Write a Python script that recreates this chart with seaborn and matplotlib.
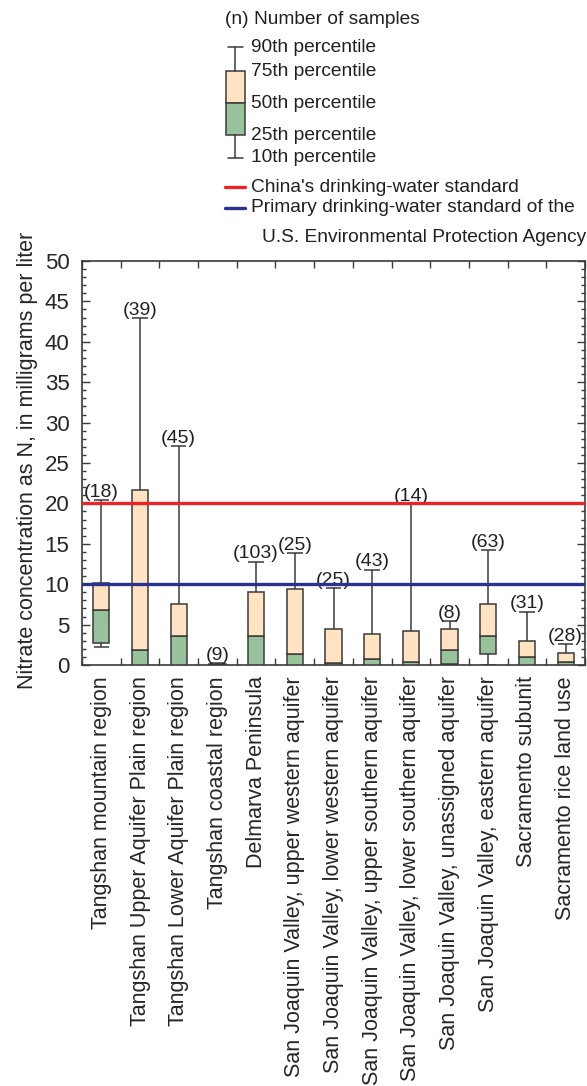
import numpy as np
import pandas as pd
import matplotlib.pyplot as plt
import seaborn as sns
from matplotlib.patches import Rectangle

# Percentile values (nitrate as N, mg/L)
regions = [
    'Tangshan mountain region',
    'Tangshan Upper Aquifer Plain region',
    'Tangshan Lower Aquifer Plain region',
    'Tangshan coastal region',
    'Delmarva Peninsula',
    'San Joaquin Valley, upper western aquifer',
    'San Joaquin Valley, lower western aquifer',
    'San Joaquin Valley, upper southern aquifer',
    'San Joaquin Valley, lower southern aquifer',
    'San Joaquin Valley, unassigned aquifer',
    'San Joaquin Valley, eastern aquifer',
    'Sacramento subunit',
    'Sacramento rice land use',
]
n_samples = [18, 39, 45, 9, 103, 25, 25, 43, 14, 8, 63, 31, 28]
p10 = [2.2, 0.0, 0.0, 0.0, 0.0, 0.0, 0.0, 0.0, 0.0, 0.1, 0.05, 0.0, 0.0]
p25 = [2.7, 0.0, 0.05, 0.0, 0.0, 0.0, 0.0, 0.0, 0.0, 0.15, 1.4, 0.0, 0.0]
p50 = [6.8, 1.9, 3.6, 0.05, 3.6, 1.4, 0.2, 0.7, 0.4, 1.8, 3.6, 1.0, 0.4]
p75 = [10.1, 21.7, 7.6, 0.15, 9.0, 9.4, 4.5, 3.8, 4.2, 4.5, 7.5, 3.0, 1.5]
p90 = [20.4, 42.9, 27.1, 0.25, 12.8, 13.8, 9.5, 11.8, 19.9, 5.4, 14.2, 6.6, 2.6]
china_std = 20
epa_std = 10

df = pd.DataFrame({'region': regions, 'n': n_samples, 'p10': p10, 'p25': p25,
                   'p50': p50, 'p75': p75, 'p90': p90})

sns.set_theme(style='ticks')
plt.rcParams['font.family'] = ['Liberation Sans Narrow', 'Liberation Sans', 'DejaVu Sans']
plt.rcParams['text.color'] = '#231f20'

TAN = '#ffe3c3'
GREEN = '#98c29c'
EDGE = '#3a3a3a'
RED = '#ee2229'
BLUE = '#2b3190'

fig = plt.figure(figsize=(5.87, 10.86), dpi=100)
ax = fig.add_axes([82 / 587, 1 - 665 / 1086, 503 / 587, 404 / 1086])

x = np.arange(len(df))
w = 0.42
ax.bar(x, df['p50'] - df['p25'], bottom=df['p25'], width=w, color=GREEN,
       edgecolor=EDGE, linewidth=1.1, zorder=3)
ax.bar(x, df['p75'] - df['p50'], bottom=df['p50'], width=w, color=TAN,
       edgecolor=EDGE, linewidth=1.1, zorder=3)
ax.vlines(x, df['p75'], df['p90'], color=EDGE, lw=1.1, zorder=2)
ax.vlines(x, df['p10'], df['p25'], color=EDGE, lw=1.1, zorder=2)
ax.hlines(df['p90'], x - 0.2, x + 0.2, color=EDGE, lw=1.1, zorder=2)
ax.hlines(df['p10'], x - 0.2, x + 0.2, color=EDGE, lw=1.1, zorder=2)
for xi, top, n in zip(x, df['p90'], df['n']):
    ax.annotate(f'({n})', (xi, top), xytext=(0, 2.5), textcoords='offset points',
                ha='center', va='baseline', fontsize=14)

ax.axhline(china_std, color=RED, lw=2.4, zorder=4)
ax.axhline(epa_std, color=BLUE, lw=2.4, zorder=4)

ax.set_xlim(-0.5, len(df) - 0.5)
ax.set_ylim(0, 50)
ax.set_yticks(np.arange(0, 51, 5))
ax.set_yticks(np.arange(0, 51, 1), minor=True)
ax.set_xticks(x)
ax.set_xticklabels(df['region'], rotation=90, fontsize=15.5)
ax.set_xticks(np.arange(-0.5, len(df) - 0.4, 1), minor=True)
ax.tick_params(axis='x', which='major', length=0, pad=8)
ax.tick_params(axis='x', which='minor', direction='in', length=5, top=True,
               bottom=True, width=1, color=EDGE)
ax.tick_params(axis='y', which='major', direction='in', length=6, left=True,
               right=True, width=1, color=EDGE, labelsize=16, pad=9)
ax.tick_params(axis='y', which='minor', direction='in', length=3, left=True,
               right=True, width=1, color=EDGE)
for s in ax.spines.values():
    s.set_color(EDGE)
    s.set_linewidth(1.2)
ax.set_ylabel('Nitrate concentration as N, in milligrams per liter', fontsize=15.5)
ax.yaxis.set_label_coords(-0.088, 0.507)

# Explanation block at the top, drawn in pixel coordinates
lax = fig.add_axes([0, 0, 1, 1], zorder=-1)
lax.set_xlim(0, 587)
lax.set_ylim(1086, 0)
lax.axis('off')
fs = 13.8
lax.text(225, 20, '(n) Number of samples', fontsize=fs, va='center')
lax.plot([235, 235], [47, 71], color=EDGE, lw=1.1)
lax.plot([235, 235], [135, 158], color=EDGE, lw=1.1)
lax.plot([228, 243], [47, 47], color=EDGE, lw=1.1)
lax.plot([228, 243], [158, 158], color=EDGE, lw=1.1)
lax.add_patch(Rectangle((226, 71), 19, 32, facecolor=TAN, edgecolor=EDGE, lw=1.1))
lax.add_patch(Rectangle((226, 103), 19, 32, facecolor=GREEN, edgecolor=EDGE, lw=1.1))
for yy, lab in [(47, '90th percentile'), (72, '75th percentile'),
                (103, '50th percentile'), (135, '25th percentile'),
                (158, '10th percentile')]:
    lax.text(251, yy, lab, fontsize=fs, va='center')
lax.plot([225, 245], [187, 187], color=RED, lw=2.4)
lax.plot([225, 245], [208, 208], color=BLUE, lw=2.4)
lax.text(251, 187, "China's drinking-water standard", fontsize=fs, va='center')
lax.text(251, 208, 'Primary drinking-water standard of the', fontsize=fs, va='center')
lax.text(262, 238, 'U.S. Environmental Protection Agency', fontsize=fs, va='center')

fig.savefig('out.png', dpi=100)
